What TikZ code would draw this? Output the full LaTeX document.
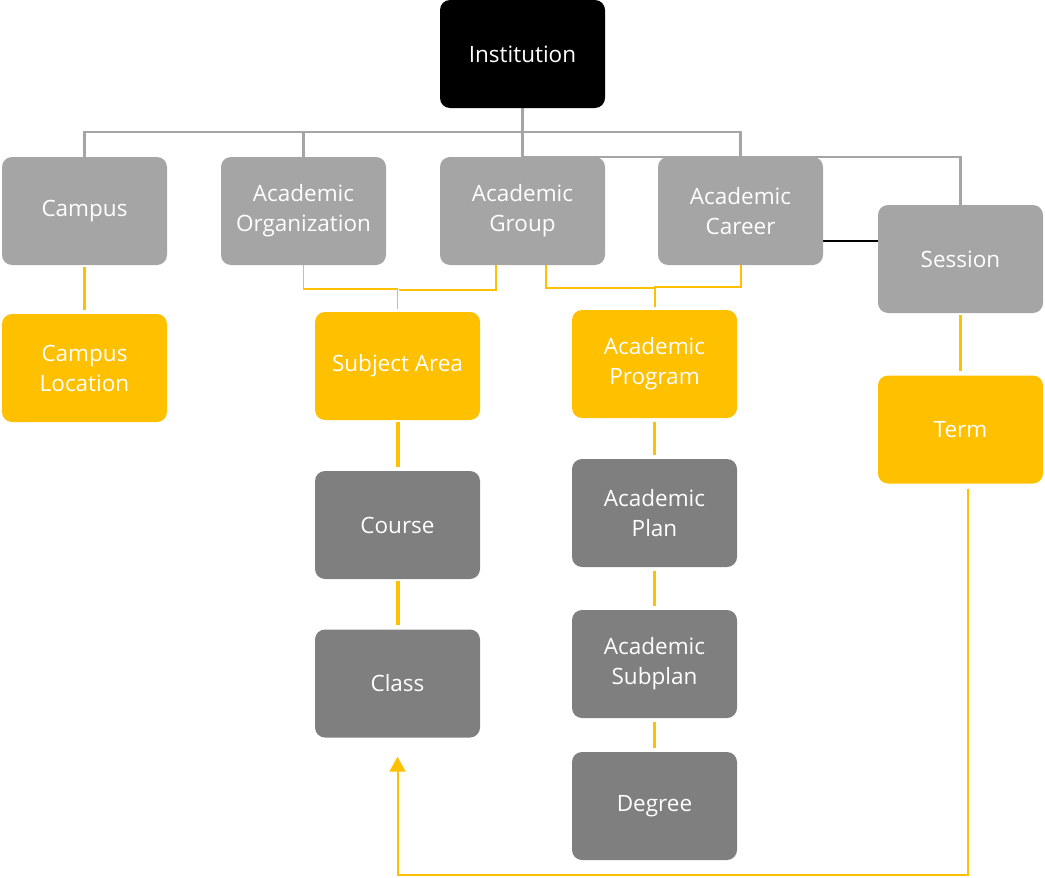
\documentclass[tikz,border=0pt]{standalone}
\usepackage{fontspec}
\setmainfont{Open Sans}
\usetikzlibrary{arrows.meta,backgrounds}
\definecolor{gold}{HTML}{FFC000}
\definecolor{midgrey}{HTML}{A5A5A5}
\definecolor{darkgrey}{HTML}{7F7F7F}
\tikzset{
  box/.style={rounded corners=10pt, minimum width=165pt, minimum height=108pt,
    inner sep=0pt, align=center, text=white,
    font=\fontsize{22.5}{30}\selectfont},
  toplevel/.style={box, fill=black},
  unit/.style={box, fill=midgrey},
  keyunit/.style={box, fill=gold},
  detail/.style={box, fill=darkgrey},
  treeline/.style={draw=midgrey, line width=2.5pt},
  linkline/.style={draw=black, line width=1.5pt},
  chainline/.style={draw=gold, line width=3pt},
  thinlink/.style={draw=gold, line width=1.5pt},
  feedback/.style={draw=gold, line width=2pt, -{Triangle[width=16pt,length=15pt]}}
}
\begin{document}
\begin{tikzpicture}[x=1pt,y=-1pt]
\useasboundingbox (0,0) rectangle (1045,878);

% top of the hierarchy
\node[toplevel] (inst) at (522.5,54) {Institution};

% second level
\node[unit] (camp)   at (84.5,211)  {Campus};
\node[unit] (org)    at (303.5,211) {Academic\\Organization};
\node[unit] (grp)    at (522.5,211) {Academic\\Group};
\node[unit] (career) at (740.5,211) {Academic\\Career};
\node[unit] (sess)   at (960.5,259) {Session};

% setup records
\node[keyunit] (loc)  at (84.5,368)  {Campus\\Location};
\node[keyunit] (subj) at (397.5,366) {Subject Area};
\node[keyunit] (prog) at (654.5,364) {Academic\\Program};
\node[keyunit] (term) at (960.5,429.5) {Term};

% catalog and plan records
\node[detail] (course)  at (397.5,525)   {Course};
\node[detail] (class)   at (397.5,683.5) {Class};
\node[detail] (plan)    at (654.5,513)   {Academic\\Plan};
\node[detail] (subplan) at (654.5,664)   {Academic\\Subplan};
\node[detail] (degree)  at (654.5,806)   {Degree};

\begin{scope}[on background layer]
  % grey tree below the institution
  \draw[treeline] (inst.south) -- (grp.north);
  \draw[treeline] (camp.north) -- ++(0,-25) -| (career.north);
  \draw[treeline] (org.north) -- ++(0,-25);
  \draw[treeline] (grp.north) -| (sess.north);
  % career to session
  \draw[linkline] ([yshift=-30pt]career.east) -- ([yshift=-30pt]career.east -| sess.west);
  % thin elbows into subject area and program
  \draw[thinlink, shorten >=3pt] (org.south) -- ++(0,24) -| (subj.north);
  \draw[thinlink] ([xshift=-26.5pt]grp.south) |- ([xshift=1.5pt,yshift=22pt]subj.north);
  \draw[thinlink] ([xshift=23.5pt]grp.south) |- ([yshift=22pt]prog.north);
  \draw[thinlink, line width=2pt, shorten >=3pt] (career.south) -- ++(0,22) -| (prog.north);
\end{scope}

% gold chains
\draw[chainline, shorten <=2pt, shorten >=4pt] (camp.south) -- (loc.north);
\draw[chainline, line width=4pt, shorten <=2pt, shorten >=4pt] (subj.south) -- (course.north);
\draw[chainline, line width=4pt, shorten <=2pt, shorten >=4pt] (course.south) -- (class.north);
\draw[chainline, shorten <=4pt, shorten >=4pt] (prog.south) -- (plan.north);
\draw[chainline, shorten <=4pt, shorten >=4pt] (plan.south) -- (subplan.north);
\draw[chainline, shorten <=4pt, shorten >=4pt] (subplan.south) -- (degree.north);
\draw[chainline, shorten <=2pt, shorten >=4pt] (sess.south) -- (term.north);

% term feeds back into class
\draw[feedback] ([xshift=7.5pt,yshift=-5pt]term.south) -- ++(0,386) -| ([yshift=-19pt]class.south);
\end{tikzpicture}
\end{document}
